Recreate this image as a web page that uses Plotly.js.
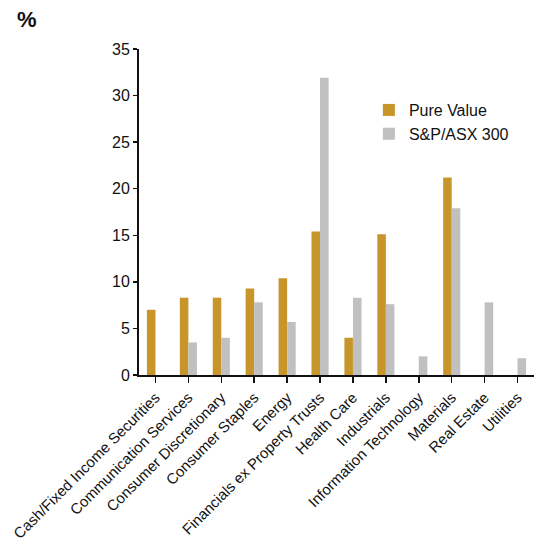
<!DOCTYPE html>
<html>
<head>
<meta charset="utf-8">
<script src="https://cdn.plot.ly/plotly-3.0.1.min.js"></script>
<style>html,body{margin:0;padding:0;background:#fff;}#chart{width:534px;height:542px;}</style>
</head>
<body>
<div id="chart"></div>
<script>
const categories = [
  "Cash/Fixed Income Securities",
  "Communication Services",
  "Consumer Discretionary",
  "Consumer Staples",
  "Energy",
  "Financials ex Property Trusts",
  "Health Care",
  "Industrials",
  "Information Technology",
  "Materials",
  "Real Estate",
  "Utilities"
];
const pureValue = [7.0, 8.3, 8.3, 9.3, 10.4, 15.4, 4.0, 15.1, 0, 21.2, 0, 0];
const asx300 = [0, 3.5, 4.0, 7.8, 5.7, 31.9, 8.3, 7.6, 2.0, 17.9, 7.8, 1.8];
const yTicks = [0, 5, 10, 15, 20, 25, 30, 35];

const font = "Liberation Sans, Arial, sans-serif";

const traces = [
  {type: "bar", name: "Pure Value", x: categories, y: pureValue, marker: {color: "#C8952B"}},
  {type: "bar", name: "S&P/ASX 300", x: categories, y: asx300, marker: {color: "#C0C0C0"}}
];

const layout = {
  width: 534, height: 542,
  margin: {l: 139, r: 0, t: 49, b: 167},
  paper_bgcolor: "#fff", plot_bgcolor: "#fff",
  font: {family: font, color: "#111", size: 15},
  barmode: "group", bargap: 0.48, bargroupgap: 0,
  showlegend: true,
  legend: {x: 0.582, y: 0.865, xanchor: "left", yanchor: "top", font: {size: 16, family: font}, bgcolor: "rgba(0,0,0,0)", tracegroupgap: 0},
  xaxis: {
    type: "category", tickangle: -45, showline: true, linecolor: "#111", linewidth: 2,
    ticks: "outside", ticklen: 6, tickwidth: 1.5, tickcolor: "#111", showgrid: false,
    tickfont: {size: 15, family: font}, zeroline: false
  },
  yaxis: {
    range: [0, 35], tickvals: yTicks, showline: true, linecolor: "#111", linewidth: 2,
    ticks: "outside", ticklen: 4, tickwidth: 1.5, tickcolor: "#111", showgrid: false,
    zeroline: false, tickfont: {size: 16, family: font}
  },
  annotations: [{
    text: "<b>%</b>", xref: "paper", yref: "paper", x: -0.284, y: 1.089,
    xanchor: "center", yanchor: "middle", showarrow: false, font: {size: 22, family: font, color: "#111"}
  }]
};

Plotly.newPlot("chart", traces, layout, {displayModeBar: false, staticPlot: true});
</script>
</body>
</html>
